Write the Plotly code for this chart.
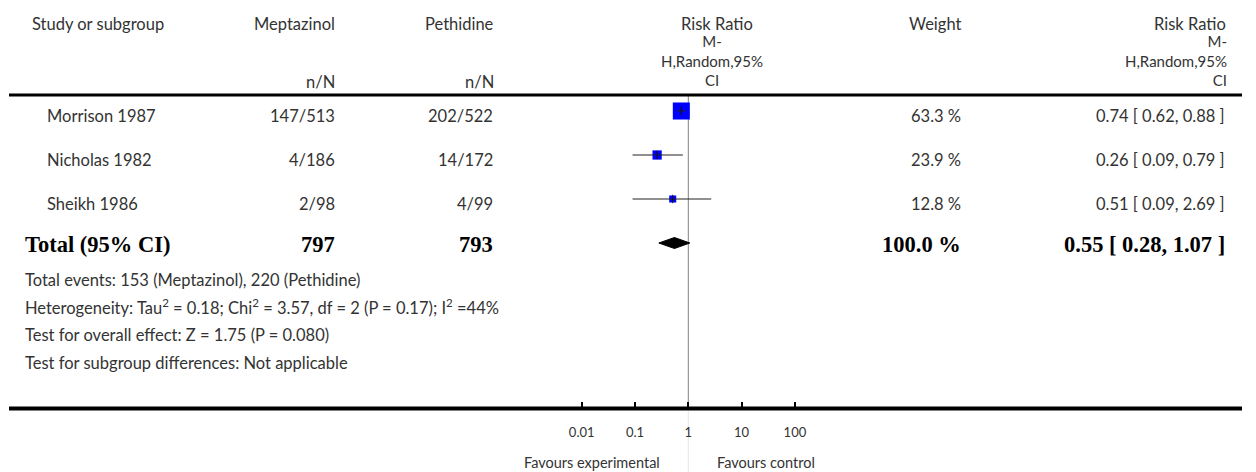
import math
import plotly.graph_objects as go

# ---------------- data ----------------
studies = ["Morrison 1987", "Nicholas 1982", "Sheikh 1986"]
exp_events = [147, 4, 2]
exp_total = [513, 186, 98]
ctl_events = [202, 14, 4]
ctl_total = [522, 172, 99]
weights = [63.3, 23.9, 12.8]
rr = [0.74, 0.26, 0.51]
rr_lo = [0.62, 0.09, 0.09]
rr_hi = [0.88, 0.79, 2.69]

pooled_rr = 0.55
pooled_lo = 0.28
pooled_hi = 1.07
total_weight = 100.0

tick_vals = [0.01, 0.1, 1, 10, 100]
tick_text = ["0.01", "0.1", "1", "10", "100"]

exp_name = "Meptazinol"
ctl_name = "Pethidine"
footer_lines = [
    "Total events: 153 (Meptazinol), 220 (Pethidine)",
    "Heterogeneity: Tau<sup>2</sup> = 0.18; Chi<sup>2</sup> = 3.57, df = 2 (P = 0.17); I<sup>2</sup> =44%",
    "Test for overall effect: Z = 1.75 (P = 0.080)",
    "Test for subgroup differences: Not applicable",
]

# ---------------- layout helpers ----------------
W, H = 1256, 472
SANS = "Lato, 'Open Sans', sans-serif"
SERIF = "'Liberation Serif', 'Times New Roman', serif"
TXT = "#333333"
FS = 16.5
BFS = 22.5

def px(x):
    return x / W

annotations = []

def add_text(x, y, text, anchor="left", size=FS, family=SANS, color=TXT,
             weight="normal", align=None):
    annotations.append(dict(
        x=px(x), y=y, xref="paper", yref="y", text=text, showarrow=False,
        xanchor=anchor, yanchor="middle", align=align or anchor,
        font=dict(family=family, size=size, color=color, weight=weight),
    ))

# header
add_text(30, 24, "Study or subgroup", "left")
add_text(337, 24, exp_name, "right")
add_text(337, 82, "n/N", "right")
add_text(496, 24, ctl_name, "right")
add_text(496, 82, "n/N", "right")
add_text(716.5, 24, "Risk Ratio", "center")
add_text(712, 60.5, "M-<br>H,Random,95%<br>CI", "center", 15)
add_text(963, 24, "Weight", "right")
add_text(1228, 24, "Risk Ratio", "right")
add_text(1229, 60.5, "M-<br>H,Random,95%<br>CI", "right", 15)

ROW0 = 111
ROWSTEP = 44
TEXT_OFF = 5

row_y = [ROW0 + ROWSTEP * i for i in range(len(studies))]
total_y = ROW0 + ROWSTEP * len(studies)

for i, s in enumerate(studies):
    ty = row_y[i] + TEXT_OFF
    add_text(45, ty, s, "left")
    add_text(337, ty, f"{exp_events[i]}/{exp_total[i]}", "right")
    add_text(495, ty, f"{ctl_events[i]}/{ctl_total[i]}", "right")
    add_text(963, ty, f"{weights[i]:.1f} %", "right")
    add_text(1227, ty, f"{rr[i]:.2f} [ {rr_lo[i]:.2f}, {rr_hi[i]:.2f} ]", "right")

ty = total_y + 1
bold = dict(size=BFS, family=SERIF, color="#000000", weight="bold")
add_text(23, ty, "Total (95% CI)", "left", **bold)
add_text(337, ty, f"{sum(exp_total)}", "right", **bold)
add_text(495, ty, f"{sum(ctl_total)}", "right", **bold)
add_text(963, ty, f"{total_weight:.1f} %", "right", **bold)
add_text(1227, ty, f"{pooled_rr:.2f} [ {pooled_lo:.2f}, {pooled_hi:.2f} ]", "right", **bold)

for k, line in enumerate(footer_lines):
    add_text(23, [280, 307, 335, 363][k], line, "left")

add_text(662, 462, "Favours experimental", "right", 14.5)
add_text(715, 462, "Favours control", "left", 14.5)

# ---------------- traces ----------------
fig = go.Figure()

# squares (size scales with weight)
fig.add_trace(go.Scatter(
    x=rr, y=row_y, mode="markers",
    marker=dict(symbol="square", color="#0000FF", opacity=1,
                size=[4.5 + 0.198 * w for w in weights], line=dict(width=0)),
    hoverinfo="skip",
))

# confidence intervals
ci_x, ci_y = [], []
for i in range(len(studies)):
    ci_x += [rr_lo[i], rr_hi[i], None]
    ci_y += [row_y[i], row_y[i], None]
fig.add_trace(go.Scatter(x=ci_x, y=ci_y, mode="lines",
                         line=dict(color="#222222", width=1.2), hoverinfo="skip"))

# point estimate tick
fig.add_trace(go.Scatter(
    x=rr, y=row_y, mode="markers",
    marker=dict(symbol="line-ns", size=6, line=dict(color="#111111", width=1)),
    hoverinfo="skip",
))

# pooled diamond
fig.add_trace(go.Scatter(
    x=[pooled_lo, pooled_rr, pooled_hi, pooled_rr, pooled_lo],
    y=[total_y, total_y - 5.5, total_y, total_y + 5.5, total_y],
    mode="lines", fill="toself", fillcolor="#000000",
    line=dict(color="#000000", width=1), hoverinfo="skip",
))

shapes = [
    dict(type="line", xref="paper", yref="y", x0=px(9), x1=px(1242), y0=95, y1=95,
         line=dict(color="#000000", width=3)),
    dict(type="line", xref="paper", yref="y", x0=px(9), x1=px(1242), y0=408.5, y1=408.5,
         line=dict(color="#000000", width=4)),
    dict(type="line", xref="x", yref="y", x0=1, x1=1, y0=96, y1=407,
         line=dict(color="#808080", width=1), layer="below"),
    dict(type="line", xref="x", yref="y", x0=1, x1=1, y0=411, y1=472,
         line=dict(color="#e6e6e6", width=1), layer="below"),
]

# log axis mapping: pixel = 688.3 + 53.3*log10(v)
C, D = 688.3, 53.3
fig.update_layout(
    width=W, height=H,
    margin=dict(l=0, r=0, t=0, b=0),
    paper_bgcolor="white", plot_bgcolor="white",
    showlegend=False,
    xaxis=dict(type="log", range=[-C / D, (W - C) / D], domain=[0, 1],
               anchor="free", position=(H - 408.5) / H,
               showgrid=False, zeroline=False, showline=False,
               ticks="inside", ticklen=7, tickwidth=2, tickcolor="#000000",
               tickvals=tick_vals, ticktext=tick_text,
               tickfont=dict(family=SANS, size=13, color=TXT),
               ticklabelstandoff=14, fixedrange=True),
    yaxis=dict(range=[H, 0], domain=[0, 1], visible=False, fixedrange=True),
    annotations=annotations,
    shapes=shapes,
)

fig.write_html("out.html")
